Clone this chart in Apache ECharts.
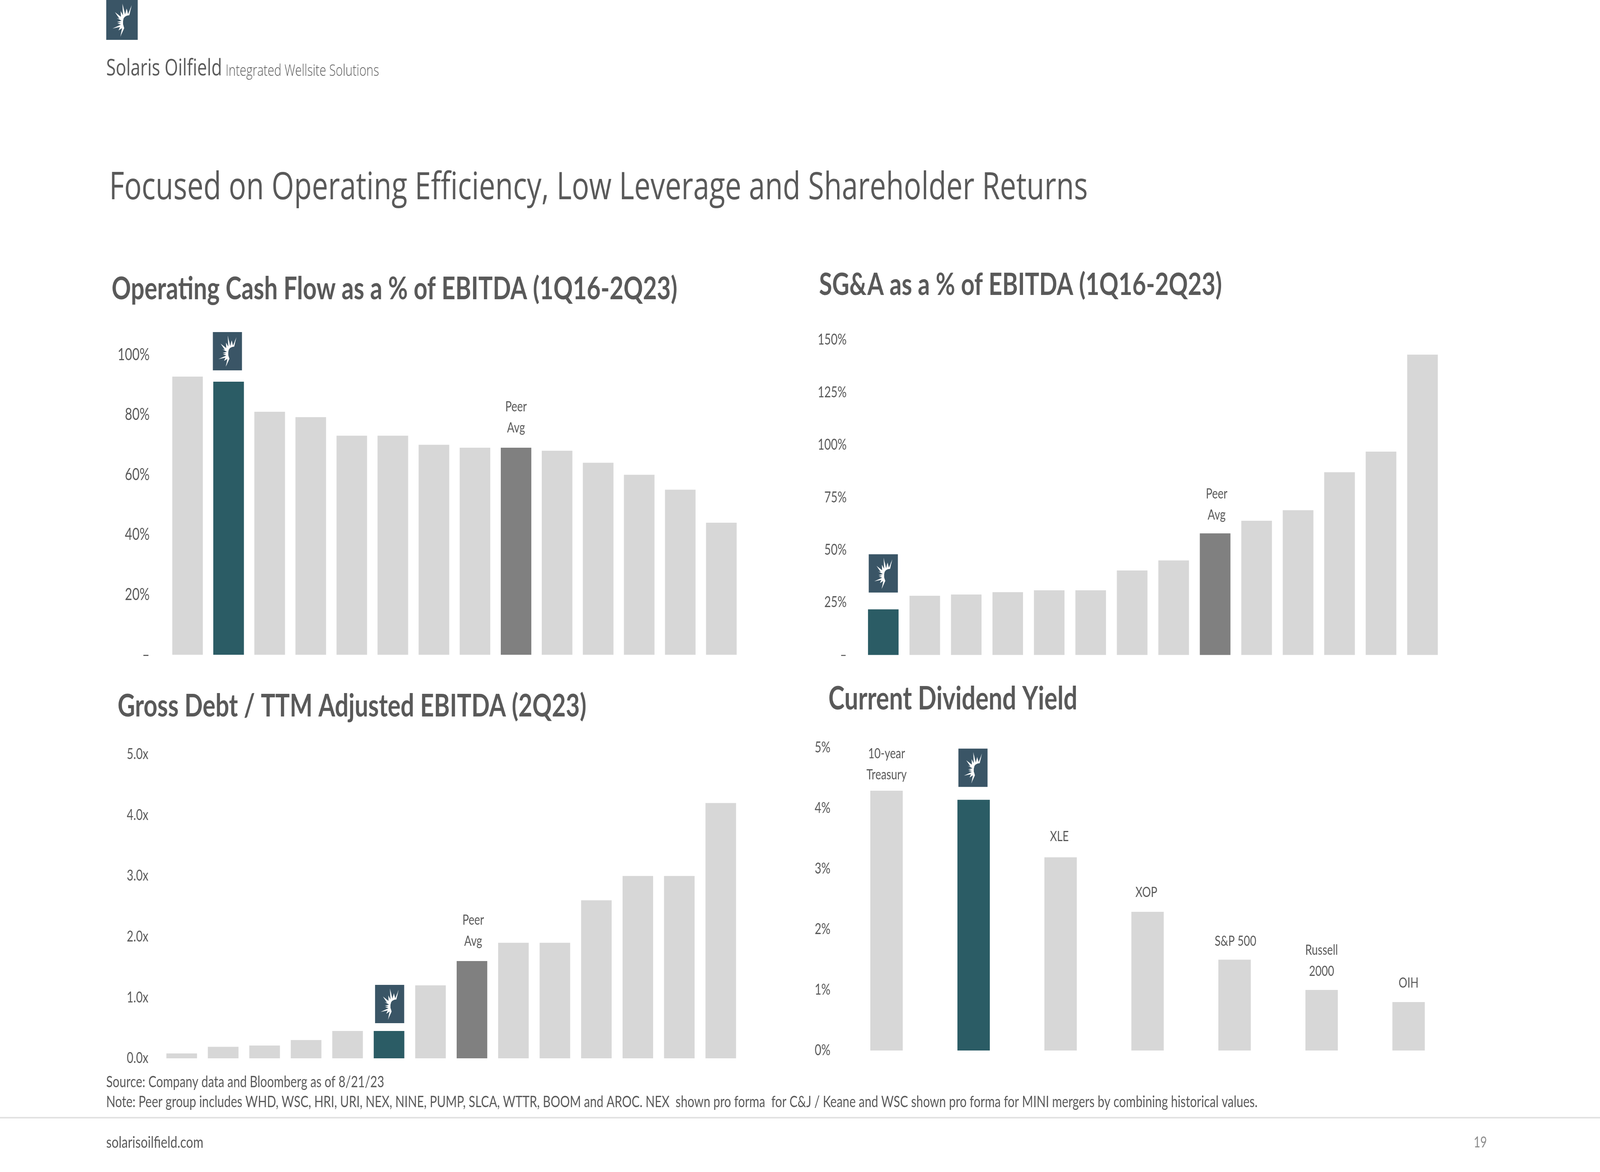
<!DOCTYPE html>
<html>
<head>
<meta charset="utf-8">
<title>Solaris Oilfield</title>
<style>html,body{margin:0;padding:0;background:#fff;overflow:hidden;width:100%;height:100%}#c{width:5333px;height:3000px;transform-origin:0 0}</style>
<script src="https://cdn.jsdelivr.net/npm/echarts@6/dist/echarts.min.js"></script>
</head>
<body>
<div id="c"></div>
<script>
// ---- data ----
const cashFlowValues = [92.7, 91, 81, 79.2, 73, 73, 70, 69, 69, 68, 64, 60, 55, 44];
const cashFlowTicks = ['–', '20%', '40%', '60%', '80%', '100%'];
const cashFlowCategories = ['Peer 1', 'Solaris', 'Peer 2', 'Peer 3', 'Peer 4', 'Peer 5', 'Peer 6', 'Peer 7', 'Peer Avg', 'Peer 8', 'Peer 9', 'Peer 10', 'Peer 11', 'Peer 12'];

const sgaValues = [21.7, 28.2, 28.8, 29.9, 30.8, 30.8, 40.2, 45, 57.9, 63.9, 68.9, 87, 96.8, 143];
const sgaTicks = ['–', '25%', '50%', '75%', '100%', '125%', '150%'];
const sgaCategories = ['Solaris', 'Peer 1', 'Peer 2', 'Peer 3', 'Peer 4', 'Peer 5', 'Peer 6', 'Peer 7', 'Peer Avg', 'Peer 8', 'Peer 9', 'Peer 10', 'Peer 11', 'Peer 12'];

const debtValues = [0.08, 0.19, 0.21, 0.3, 0.45, 0.45, 1.2, 1.6, 1.9, 1.9, 2.6, 3, 3, 4.2];
const debtTicks = ['0.0x', '1.0x', '2.0x', '3.0x', '4.0x', '5.0x'];
const debtCategories = ['Peer 1', 'Peer 2', 'Peer 3', 'Peer 4', 'Peer 5', 'Solaris', 'Peer 6', 'Peer Avg', 'Peer 7', 'Peer 8', 'Peer 9', 'Peer 10', 'Peer 11', 'Peer 12'];

const yieldValues = [4.29, 4.14, 3.19, 2.29, 1.5, 1, 0.8];
const yieldTicks = ['0%', '1%', '2%', '3%', '4%', '5%'];
const yieldCategories = ['10-year\nTreasury', 'Solaris', 'XLE', 'XOP', 'S&P 500', 'Russell\n2000', 'OIH'];

const slideTitle = 'Focused on Operating Efficiency, Low Leverage and Shareholder Returns';
const sourceLine = 'Source: Company data and Bloomberg as of 8/21/23';
const noteLine = 'Note: Peer group includes WHD, WSC, HRI, URI, NEX, NINE, PUMP, SLCA, WTTR, BOOM and AROC. NEX  shown pro forma  for C&J / Keane and WSC shown pro forma for MINI mergers by combining historical values.';

// ---- style ----
const TXT = '#595959', GREY = '#D7D7D7', TEAL = '#2B5C65', PEER = '#808080', BADGE = '#3A5566';
const BODY = 'Lato, Carlito, sans-serif';
const STAR_PTS = [[133,39],[141,13],[129,36],[124,22],[119,37],[110,9],[112,39],[104,28],[105,43],[85,31],[100,48],[91,46],[107,53],[92,56],[105,58],[93,60],[105,63],[77,73],[102,69],[97,78],[109,72],[103,94],[116,72],[112,62],[112,54],[114,47],[118,43],[125,40]];
const STAR = 'path://M' + STAR_PTS.map(p => p.join(' ')).join('L') + 'Z';
const yieldLabelGap = [14, 0, 26, 23, 20, 21, 22];
const yieldLabelDx = [0, 0, -4, -4, 3, 0, 0];

const panels = [
  { cats: cashFlowCategories, vals: cashFlowValues, ticks: cashFlowTicks, step: 20, left: 556.7, top: 908, width: 1916, height: 768, barW: 102, fs: 42, margin: 58, badge: 1, badgeDy: -78, badgeDx: -4, peer: 8, peerDx: 0, peerGap: 24 },
  { cats: sgaCategories, vals: sgaValues, ticks: sgaTicks, step: 25, left: 2875, top: 870, width: 1935.5, height: 806.5, barW: 102, fs: 38, margin: 53, badge: 0, badgeDy: -92, badgeDx: 0, peer: 8, peerDx: 5, peerGap: 20 },
  { cats: debtCategories, vals: debtValues, ticks: debtTicks, step: 1, left: 536.5, top: 1931, width: 1935, height: 778, barW: 102, fs: 38, margin: 42, badge: 5, badgeDy: -69, badgeDx: 2, peer: 7, peerDx: 4, peerGap: 24 },
  { cats: yieldCategories, vals: yieldValues, ticks: yieldTicks, step: 1, left: 2810, top: 1914, width: 2030, height: 775, barW: 108, fs: 38, margin: 42, badge: 1, badgeDy: -82, badgeDx: -2, peer: -1, peerDx: 0, peerGap: 0, named: true }
];

const grid = [], xAxis = [], yAxis = [], series = [];
panels.forEach((p, i) => {
  grid.push({ left: p.left, top: p.top, width: p.width, height: p.height, containLabel: false });
  xAxis.push({ type: 'category', gridIndex: i, data: p.cats, axisLine: { show: false }, axisTick: { show: false }, axisLabel: { show: false }, splitLine: { show: false } });
  yAxis.push({
    type: 'value', gridIndex: i, min: 0, max: p.step * (p.ticks.length - 1), interval: p.step,
    axisLine: { show: false }, axisTick: { show: false }, splitLine: { show: false },
    axisLabel: { margin: p.margin, color: TXT, fontFamily: BODY, fontSize: p.fs, formatter: v => p.ticks[Math.round(v / p.step)] }
  });
  const data = p.vals.map((v, k) => {
    const isBadge = k === p.badge, isPeer = k === p.peer;
    const item = { value: v, itemStyle: { color: isBadge ? TEAL : isPeer ? PEER : GREY } };
    if (isPeer) item.label = { show: true, position: 'top', distance: p.peerGap, offset: [p.peerDx, 0], formatter: 'Peer\nAvg', color: TXT, fontFamily: BODY, fontSize: 36, lineHeight: 54 };
    if (p.named && !isBadge) item.label = { show: true, position: 'top', distance: yieldLabelGap[k], offset: [yieldLabelDx[k], 0], formatter: p.cats[k], color: TXT, fontFamily: BODY, fontSize: 36, lineHeight: 54 };
    return item;
  });
  series.push({ type: 'bar', xAxisIndex: i, yAxisIndex: i, barWidth: p.barW, data: data, silent: true });
  const pt = [[p.badge, p.vals[p.badge]]];
  series.push({ type: 'scatter', xAxisIndex: i, yAxisIndex: i, data: pt, symbol: 'rect', symbolSize: [97, 98], symbolOffset: [p.badgeDx, p.badgeDy], itemStyle: { color: BADGE, opacity: 1 }, silent: true, z: 5 });
  series.push({ type: 'scatter', xAxisIndex: i, yAxisIndex: i, data: pt, symbol: STAR, symbolSize: [60, 80], symbolKeepAspect: false, symbolOffset: [p.badgeDx, p.badgeDy], itemStyle: { color: '#FFFFFF', opacity: 1 }, silent: true, z: 6 });
});

const txt = (x, y, text, size, extra) => ({
  type: 'text', x: x, y: y, silent: true, z: 10,
  style: Object.assign({ text: text, fill: TXT, fontFamily: BODY, fontSize: size, verticalAlign: 'middle' }, extra || {})
});
const HEAD = { fontFamily: '"Open Sans", sans-serif' };
const BOLD = { fontWeight: 700 };

const graphic = [
  { type: 'rect', silent: true, shape: { x: 354, y: 0, width: 105, height: 102 }, style: { fill: BADGE } },
  { type: 'polygon', silent: true, x: 298, y: 0, shape: { points: STAR_PTS }, style: { fill: '#FFFFFF' } },
  txt(354, 176, 'Solaris Oilfield', 58, HEAD),
  txt(752, 183, 'Integrated Wellsite Solutions', 40, Object.assign({}, HEAD, { fontWeight: 300 })),
  txt(364, 482, slideTitle, 96.7, HEAD),
  txt(372, 740, 'Operating Cash Flow as a % of EBITDA (1Q16-2Q23)', 80, BOLD),
  txt(2730, 729, 'SG&A as a % of EBITDA (1Q16-2Q23)', 79.2, BOLD),
  txt(392, 1808, 'Gross Debt / TTM Adjusted EBITDA (2Q23)', 80.3, BOLD),
  txt(2761, 1790, 'Current Dividend Yield', 81.6, BOLD),
  txt(354, 2770, sourceLine, 40),
  txt(354, 2821, noteLine, 40),
  { type: 'rect', silent: true, shape: { x: 0, y: 2859, width: 5333, height: 4 }, style: { fill: '#E2E2E2' } },
  txt(354, 2925, 'solarisoilfield.com', 41.5),
  txt(4912, 2925, '19', 38, { fill: '#8C8C8C' })
];

// The browser may clamp the window below 5333px wide; keep the full slide in view.
const host = document.getElementById('c');
host.style.transform = 'scale(' + (window.innerWidth / 5333) + ',' + (window.innerHeight / 3000) + ')';
const chart = echarts.init(host, null, { renderer: 'canvas', width: 5333, height: 3000 });
chart.setOption({ animation: false, backgroundColor: '#fff', grid, xAxis, yAxis, series, graphic: { elements: graphic } });
</script>
</body>
</html>
